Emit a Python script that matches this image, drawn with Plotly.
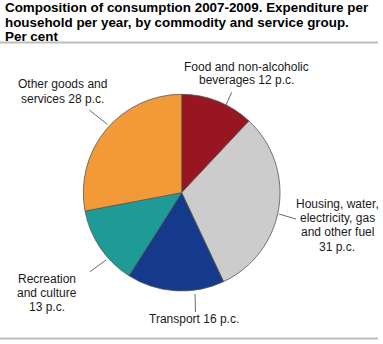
import plotly.graph_objects as go

W, H = 383, 344

categories = ["Food and non-alcoholic beverages", "Housing, water, electricity, gas and other fuel",
              "Transport", "Recreation and culture", "Other goods and services"]
values = [12, 31, 16, 13, 28]
colors = ["#981621", "#CCCCCC", "#153A8B", "#1E9B97", "#F29A38"]

# label text, split into lines as in the reference
label_lines = [
    ["Food and non-alcoholic", "beverages {} p.c."],
    ["Housing, water,", "electricity, gas", "and other fuel", "{} p.c."],
    ["Transport {} p.c."],
    ["Recreation", "and culture", "{} p.c."],
    ["Other goods and", "services {} p.c."],
]
title_lines = ["Composition of consumption 2007-2009. Expenditure per",
               "household per year, by commodity and service group.",
               "Per cent"]

# layout (pixel) positions: label centre x, first-line y, line step
label_pos = [(246, 67, 12.8), (337, 203.5, 14.4), (194, 319, 14), (47, 279, 14), (63, 84, 15)]
leaders = [((231.7, 92.3), (226, 105)),
           ((296, 219), (279, 214)),
           ((195.5, 312), (195, 294)),
           ((90, 271.7), (106, 260)),
           ((89.3, 110), (107.3, 124.3))]

def px(x):
    return x / W

def py(y):
    return 1 - y / H

fig = go.Figure(go.Pie(
    labels=categories, values=values, sort=False, direction="clockwise", rotation=0,
    marker=dict(colors=colors, line=dict(color="#555555", width=0.8)),
    textinfo="none", hoverinfo="label+percent",
    domain=dict(x=[px(83.3), px(280)], y=[py(291), py(94.3)]),
))

font = "Arial, Liberation Sans, sans-serif"
ann = []
for i, ln in enumerate(title_lines):
    ann.append(dict(text="<b>%s</b>" % ln, x=px(2.5), y=py(7.5 + 14.5 * i), xref="paper", yref="paper",
                    xanchor="left", yanchor="middle", showarrow=False,
                    font=dict(family=font, size=13.4, color="#000000")))
for lines, v, (cx, y0, step) in zip(label_lines, values, label_pos):
    for j, ln in enumerate(lines):
        ann.append(dict(text=ln.format(v), x=px(cx), y=py(y0 + step * j), xref="paper", yref="paper",
                        xanchor="center", yanchor="middle", showarrow=False,
                        font=dict(family=font, size=12, color="#1a1a1a")))

shapes = []
for (a, b) in leaders:
    shapes.append(dict(type="line", xref="paper", yref="paper", x0=px(a[0]), y0=py(a[1]),
                       x1=px(b[0]), y1=py(b[1]), line=dict(color="#444444", width=0.8)))
for yy in (42.5, 338.5):
    shapes.append(dict(type="line", xref="paper", yref="paper", x0=0, x1=px(378), y0=py(yy), y1=py(yy),
                       line=dict(color="#BDBDBD", width=2)))

fig.update_layout(width=W, height=H, margin=dict(l=0, r=0, t=0, b=0), showlegend=False,
                  paper_bgcolor="white", plot_bgcolor="white", annotations=ann, shapes=shapes)

fig.write_html("out.html")
